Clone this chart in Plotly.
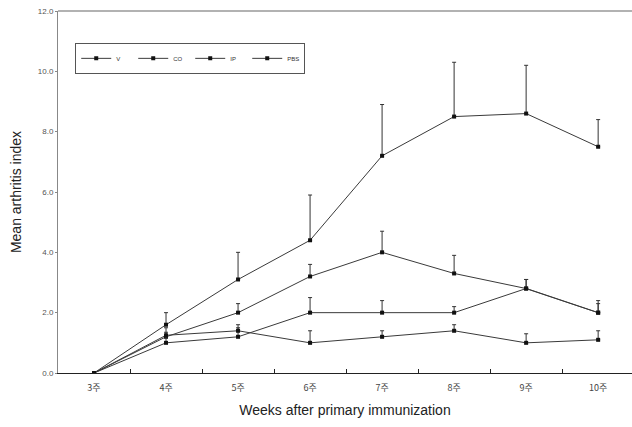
import plotly.graph_objects as go

weeks = ["3주", "4주", "5주", "6주", "7주", "8주", "9주", "10주"]
series_names = ["V", "CO", "IP", "PBS"]
v_mean = [0.0, 1.2, 2.0, 3.2, 4.0, 3.3, 2.8, 2.0]
v_err = [0.0, 0.3, 0.3, 0.4, 0.7, 0.6, 0.3, 0.4]
co_mean = [0.0, 1.0, 1.2, 2.0, 2.0, 2.0, 2.8, 2.0]
co_err = [0.0, 0.2, 0.3, 0.5, 0.4, 0.2, 0.3, 0.3]
ip_mean = [0.0, 1.25, 1.4, 1.0, 1.2, 1.4, 1.0, 1.1]
ip_err = [0.0, 0.1, 0.2, 0.4, 0.2, 0.2, 0.3, 0.3]
pbs_mean = [0.0, 1.6, 3.1, 4.4, 7.2, 8.5, 8.6, 7.5]
pbs_err = [0.0, 0.4, 0.9, 1.5, 1.7, 1.8, 1.6, 0.9]

means = [v_mean, co_mean, ip_mean, pbs_mean]
errs = [v_err, co_err, ip_err, pbs_err]
y_ticks = [0, 2, 4, 6, 8, 10, 12]
y_tick_text = ["0.0", "2.0", "4.0", "6.0", "8.0", "10.0", "12.0"]

fig = go.Figure()
for name, m, e in zip(series_names, means, errs):
    fig.add_trace(go.Scatter(
        x=weeks, y=m, name=name, mode="lines+markers",
        line=dict(color="#3a3a3a", width=1),
        marker=dict(symbol="square", size=4, color="#111111"),
        error_y=dict(type="data", array=e, arrayminus=[0] * len(e), symmetric=False,
                     color="#333333", thickness=1, width=2),
    ))

fig.update_layout(
    width=632, height=427,
    margin=dict(l=58, r=0, t=11, b=54),
    paper_bgcolor="white", plot_bgcolor="white",
    font=dict(family="Liberation Sans, Arial", color="#222222"),
    showlegend=True,
    legend=dict(
        orientation="h", x=0.03, y=0.912, xanchor="left", yanchor="top",
        bordercolor="#555555", borderwidth=1, bgcolor="white",
        font=dict(size=6, color="#333333"), entrywidth=12, entrywidthmode="pixels",
    ),
    xaxis=dict(
        type="category", range=[-0.5, 7.47],
        showgrid=False, zeroline=False,
        showline=True, linecolor="#222222", linewidth=1,
        ticks="inside", tickson="boundaries", ticklen=4, tickcolor="#222222",
        tickfont=dict(family="Noto Sans CJK KR", size=9, color="#444444"),
        ticklabelstandoff=6,
        mirror=False,
        title=dict(text="Weeks after primary immunization",
                   font=dict(family="Liberation Sans, Arial", size=14, color="#222222"),
                   standoff=12),
    ),
    yaxis=dict(
        range=[0, 12], tickvals=y_ticks, ticktext=y_tick_text,
        showgrid=False, zeroline=False,
        showline=True, linecolor="#888888", linewidth=1,
        ticks="outside", ticklen=2, tickcolor="#888888",
        tickfont=dict(family="Liberation Sans, Arial", size=8, color="#555555"),
        title=dict(text="Mean arthritis index",
                   font=dict(family="Liberation Sans, Arial", size=14, color="#222222"),
                   standoff=12),
    ),
    shapes=[dict(type="line", xref="paper", yref="paper", x0=0, x1=1, y0=1, y1=1,
                 line=dict(color="#999999", width=1.5))],
)

fig.write_html("out.html")
